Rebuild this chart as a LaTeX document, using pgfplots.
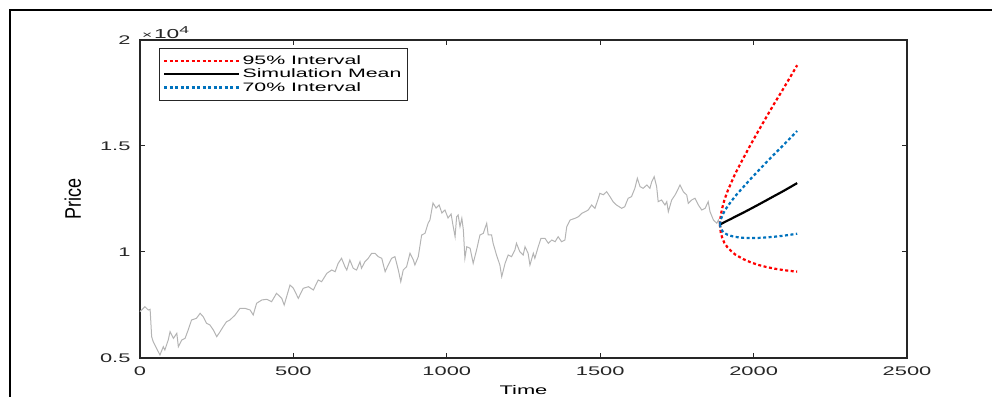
\documentclass[border=0pt]{standalone}
\usepackage{fontspec}
\usepackage{graphicx}
\setmainfont{Liberation Sans}[FakeStretch=1.75]
\newfontfamily\plainsans{Liberation Sans}
\usepackage{pgfplots}
\pgfplotsset{compat=1.18}
\usepackage{pgfplotstable}
\definecolor{pathgray}{RGB}{180,180,180}
\definecolor{mred}{RGB}{255,0,0}
\definecolor{mblue}{RGB}{0,114,189}
\definecolor{axgray}{RGB}{38,38,38}

\pgfplotstableread{
x y
0 7184
16 7420
27 7264
33 7297
38 6005
43 5769
54 5458
65 5142
76 5533
81 5377
92 5849
98 6241
109 5929
120 6165
125 5533
136 5849
147 5929
157 6321
168 6792
184 6873
196 7108
206 6948
217 6637
228 6557
239 6321
250 6005
261 6241
271 6476
282 6712
293 6792
310 7028
326 7344
342 7344
359 7264
369 7028
380 7580
397 7736
413 7769
429 7656
445 8052
462 7816
470 7500
489 8443
500 8288
516 7816
532 8288
549 8363
565 8208
581 8679
592 8599
609 8995
625 9151
636 9071
646 9467
657 9703
668 9307
674 9151
684 9623
695 9231
706 9151
717 9542
722 9231
733 9542
744 9703
755 9939
766 9939
777 9778
788 9703
799 9071
809 9387
820 9703
831 9778
842 9151
850 8599
858 9151
869 9307
880 9939
891 9623
896 9387
907 9778
918 10802
929 10882
939 11354
945 11509
955 12311
965 12076
975 12217
984 11840
994 11981
1004 11604
1014 11792
1020 11274
1027 10722
1032 11665
1037 11745
1043 11193
1049 11590
1054 11038
1059 9703
1065 10250
1076 10174
1086 9467
1097 10094
1108 10802
1119 10882
1130 11354
1135 10802
1146 10802
1151 10410
1162 9858
1173 9387
1179 8835
1190 9467
1200 9858
1211 9778
1222 10094
1227 10410
1238 10014
1249 9858
1255 10250
1265 9939
1271 9387
1282 9939
1287 9703
1298 10250
1307 10646
1320 10646
1331 10410
1342 10566
1353 10486
1363 10722
1374 10486
1385 10566
1391 11193
1402 11509
1418 11590
1429 11665
1440 11826
1451 11901
1461 11981
1472 12217
1483 12061
1494 12533
1499 12769
1510 12700
1521 12844
1532 12609
1542 12373
1553 12217
1570 12061
1580 12137
1591 12533
1602 12609
1613 13005
1621 13477
1630 13080
1640 13005
1652 13161
1662 13005
1668 13316
1676 13552
1684 13080
1689 12373
1700 12453
1711 12217
1717 12373
1722 11901
1733 12453
1744 12689
1755 13005
1760 13161
1771 12844
1782 12689
1787 12297
1798 12453
1809 12533
1820 12217
1831 11981
1842 12061
1852 12373
1858 11901
1869 11509
1880 11354
1885 11509
1890 11300
}\pricedata

\pgfplotstableread{
x u95 l95 u70 l70 mean
1890 11300 11300 11300 11300 11300
1893 11737 10911 11527 11109 11318
1898 12089 10655 11718 10992 11354
1905 12463 10425 11926 10895 11408
1915 12866 10216 12154 10815 11481
1928 13300 10028 12404 10752 11573
1940 13693 9882 12633 10711 11666
1966 14411 9666 13057 10668 11853
1991 15081 9509 13457 10656 12043
2016 15723 9389 13843 10664 12236
2041 16350 9294 14221 10686 12433
2066 16969 9219 14595 10718 12632
2092 17583 9159 14967 10759 12835
2117 18195 9110 15338 10808 13041
2142 18809 9072 15710 10862 13250
}\simdata

\begin{document}
\begin{tikzpicture}
\begin{axis}[
  scale only axis,
  width=767pt, height=318pt,
  xmin=0, xmax=2500, ymin=5000, ymax=20000,
  xtick={0,500,1000,1500,2000,2500},
  ytick={5000,10000,15000,20000},
  yticklabels={0.5,1,1.5,2},
  scaled y ticks=false,
  /pgf/number format/assume math mode=true,
  /pgf/number format/1000 sep={},
  tick align=inside, tick pos=both,
  major tick length=5pt,
  tick style={axgray, line width=1pt},
  axis line style={axgray, line width=1.4pt},
  tick label style={font=\fontsize{12.5}{14}\selectfont, text=axgray},
  xticklabel style={yshift=-5pt},
  yticklabel style={xshift=-6pt},
  xlabel={Time},
  xlabel style={font=\fontsize{12.5}{14}\selectfont, yshift=-3pt},
  ylabel={\scalebox{1}[1.25]{\plainsans\fontsize{18}{20}\selectfont Price}},
  ylabel style={yshift=12pt},
  legend style={at={(rel axis cs:0.0248,0.9748)}, anchor=north west,
    draw=axgray, line width=0.6pt, fill=white,
    font=\fontsize{12.2}{13}\selectfont,
    inner xsep=4pt, inner ysep=5.2pt, row sep=-0.9pt,
    cells={anchor=west}},
  legend image code/.code={\draw[#1] (0pt,0pt) -- (70pt,0pt); \path (0pt,0pt) -- (75pt,0pt);},
  clip=false,
]
\addplot[pathgray, line width=1pt, forget plot] table[x=x, y=y] {\pricedata};
\addplot[mred, line width=2.2pt, dash pattern=on 3pt off 2.5pt] table[x=x, y=u95] {\simdata};
\addlegendentry{95\% Interval}
\addplot[mred, line width=2.2pt, dash pattern=on 3pt off 2.5pt, forget plot] table[x=x, y=l95] {\simdata};
\addplot[black, line width=2.2pt] table[x=x, y=mean] {\simdata};
\addlegendentry{Simulation Mean}
\addplot[mblue, line width=2.2pt, dash pattern=on 3pt off 2.5pt] table[x=x, y=u70] {\simdata};
\addlegendentry{70\% Interval}
\addplot[mblue, line width=2.2pt, dash pattern=on 3pt off 2.5pt, forget plot] table[x=x, y=l70] {\simdata};
\node[anchor=south west, inner sep=0pt, text=axgray] at ([xshift=2pt, yshift=1.5pt]rel axis cs:0,1)
  {{\fontsize{10}{11}\selectfont ×}\,{\fontsize{13}{14}\selectfont 10}\raisebox{5pt}{\fontsize{10}{11}\selectfont 4}};
\end{axis}
\draw[black, line width=2pt] (-130pt,-40pt) -- (-130pt,348pt) -- (860pt,348pt);
\pgfresetboundingbox
\path[use as bounding box] (-140pt,-38pt) rectangle (852pt,358pt);
\end{tikzpicture}
\end{document}
